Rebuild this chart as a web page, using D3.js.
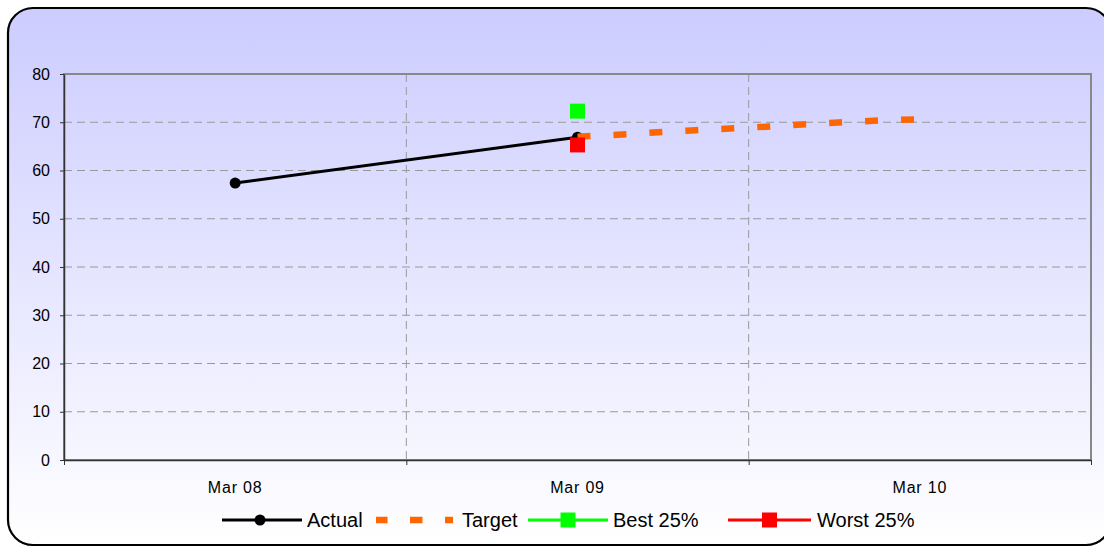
<!DOCTYPE html>
<html>
<head>
<meta charset="utf-8">
<script src="https://cdn.jsdelivr.net/npm/d3@7"></script>
<style>
  body { margin: 0; background: #fff; }
  svg { display: block; font-family: "Liberation Sans", Arial, sans-serif; }
  .axis text { fill: #000; font-family: "Liberation Sans", Arial, sans-serif; font-size: 16px; }
</style>
</head>
<body>
<script>
const outerWidth = 1104;
const outerHeight = 547;
const margin = { top: 74, right: 13, bottom: 87, left: 64 };
const innerWidth = outerWidth - margin.left - margin.right;
const innerHeight = outerHeight - margin.top - margin.bottom;

// categories on the x axis
const categories = ['Mar 08', 'Mar 09', 'Mar 10'];
const yTicks = [0, 10, 20, 30, 40, 50, 60, 70, 80];

// months counted from Mar 08
const actualMonths = [0, 12];
const actualValues = [57.4, 66.9];
const targetMonths = [12, 13, 14, 15, 16, 17, 18, 19, 20, 21, 22, 23, 24];
const targetValues = [67.0, 67.3, 67.6, 68.0, 68.3, 68.6, 68.9, 69.2, 69.6, 69.9, 70.2, 70.5, 70.6];
const bestMonths = [12];
const bestValues = [72.3];
const worstMonths = [12];
const worstValues = [65.3];

const series = [
  { name: 'Actual', color: '#000000', months: actualMonths, values: actualValues },
  { name: 'Target', color: '#FF6600', months: targetMonths, values: targetValues },
  { name: 'Best 25%', color: '#00FF00', months: bestMonths, values: bestValues },
  { name: 'Worst 25%', color: '#FF0000', months: worstMonths, values: worstValues }
];
const toPoints = s => s.months.map((m, i) => ({ m: m, v: s.values[i] }));

var svg = d3.select('body').append('svg')
    .attr('width', outerWidth)
    .attr('height', outerHeight);

// background gradient
var grad = svg.append('defs').append('linearGradient')
    .attr('id', 'bg')
    .attr('x1', 0).attr('y1', 0).attr('x2', 0).attr('y2', 1);
grad.append('stop').attr('offset', '0%').attr('stop-color', '#CCCCFF');
grad.append('stop').attr('offset', '100%').attr('stop-color', '#FFFFFF');

svg.append('rect')
    .attr('x', 8).attr('y', 8)
    .attr('width', 1103).attr('height', 537)
    .attr('rx', 25).attr('ry', 25)
    .attr('fill', 'url(#bg)')
    .attr('stroke', '#000')
    .attr('stroke-width', 2.2);

var g = svg.append('g')
    .attr('transform', `translate(${margin.left},${margin.top})`);

// Scales
var xBand = d3.scaleBand()
    .domain(categories)
    .range([0, innerWidth]);
var xScale = d3.scaleLinear() // months, each category spans one year
    .domain([-6, 30])
    .range([0, innerWidth]);
var yScale = d3.scaleLinear()
    .domain([0, 80])
    .range([innerHeight, 0]);

// gridlines
g.append('g')
  .selectAll('line')
    .data(yTicks.slice(1, -1))
    .enter()
  .append('line')
    .attr('x1', 0).attr('x2', innerWidth)
    .attr('y1', d => yScale(d)).attr('y2', d => yScale(d))
    .attr('stroke', '#999')
    .attr('stroke-dasharray', '8,5');
g.append('g')
  .selectAll('line')
    .data(categories.slice(1))
    .enter()
  .append('line')
    .attr('x1', d => xBand(d)).attr('x2', d => xBand(d))
    .attr('y1', 0).attr('y2', innerHeight)
    .attr('stroke', '#999')
    .attr('stroke-dasharray', '8,5');

// plot border
g.append('rect')
    .attr('width', innerWidth).attr('height', innerHeight)
    .attr('fill', 'none')
    .attr('stroke', '#888')
    .attr('stroke-width', 2);

// Y-axis (ticks only, labels drawn below)
var yAxis = d3.axisLeft(yScale)
    .tickValues(yTicks)
    .tickSize(4)
    .tickFormat('')
    .tickSizeOuter(0);
g.append('g')
    .attr('class', 'axis')
    .call(yAxis)
    .call(a => a.select('.domain').attr('stroke', '#333').attr('stroke-width', 1.5))
    .call(a => a.selectAll('.tick line').attr('stroke', '#333'));
g.append('g')
    .attr('class', 'axis')
  .selectAll('text')
    .data(yTicks)
    .enter()
  .append('text')
    .attr('x', -14)
    .attr('y', d => yScale(d) + 5.5)
    .attr('text-anchor', 'end')
    .text(d => d);

// X-axis: ticks on band edges, labels in the middle
var xAxis = d3.axisBottom(xScale)
    .tickValues([-6, 6, 18, 30])
    .tickFormat('')
    .tickSize(5)
    .tickSizeOuter(0);
g.append('g')
    .attr('class', 'axis')
    .attr('transform', `translate(0,${innerHeight})`)
    .call(xAxis)
    .call(a => a.select('.domain').attr('stroke', '#333').attr('stroke-width', 1.5))
    .call(a => a.selectAll('.tick line').attr('stroke', '#333'));
g.append('g')
    .attr('class', 'axis')
  .selectAll('text')
    .data(categories)
    .enter()
  .append('text')
    .attr('x', d => xBand(d) + xBand.bandwidth() / 2)
    .attr('y', innerHeight + 33)
    .attr('text-anchor', 'middle')
    .style('letter-spacing', '0.8px')
    .text(d => d);

var line = d3.line()
    .x(d => xScale(d.m))
    .y(d => yScale(d.v));

// Actual
g.append('path')
    .datum(toPoints(series[0]))
    .attr('d', line)
    .attr('fill', 'none')
    .attr('stroke', series[0].color)
    .attr('stroke-width', 3);
g.selectAll('.actual-dot')
    .data(toPoints(series[0]))
    .enter()
  .append('circle')
    .attr('class', 'actual-dot')
    .attr('cx', d => xScale(d.m))
    .attr('cy', d => yScale(d.v))
    .attr('r', 5.5)
    .attr('fill', '#000');

// Target
g.append('path')
    .datum(toPoints(series[1]))
    .attr('d', line)
    .attr('fill', 'none')
    .attr('stroke', series[1].color)
    .attr('stroke-width', 6.5)
    .attr('stroke-dasharray', '13,23');

// Best / Worst markers
[series[2], series[3]].forEach(s => {
  g.selectAll(null)
      .data(toPoints(s))
      .enter()
    .append('rect')
      .attr('x', d => xScale(d.m) - 7.5)
      .attr('y', d => yScale(d.v) - 7.5)
      .attr('width', 15).attr('height', 15)
      .attr('fill', s.color);
});

// Legend
var legendItems = [
  { s: series[0], x: 222, len: 80, tx: 85, marker: 'circle' },
  { s: series[1], x: 376, len: 77, tx: 86, marker: 'none' },
  { s: series[2], x: 528, len: 80, tx: 85, marker: 'square' },
  { s: series[3], x: 728, len: 83, tx: 89, marker: 'square' }
];
var legend = svg.append('g').attr('class', 'legend');
legendItems.forEach(it => {
  var lg = legend.append('g').attr('transform', `translate(${it.x},520)`);
  if (it.s.name === 'Target') {
    lg.append('line')
        .attr('x1', 0).attr('x2', it.len)
        .attr('stroke', it.s.color)
        .attr('stroke-width', 6.5)
        .attr('stroke-dasharray', '11.5,22.5,12.5,22.5,8,40');
  } else {
    lg.append('line')
        .attr('x1', 0).attr('x2', it.len)
        .attr('stroke', it.s.color)
        .attr('stroke-width', 3);
  }
  if (it.marker === 'circle') {
    lg.append('circle').attr('cx', 38).attr('r', 5.5).attr('fill', it.s.color);
  } else if (it.marker === 'square') {
    lg.append('rect').attr('x', it.len / 2 - 7.5).attr('y', -7.5)
        .attr('width', 15).attr('height', 15).attr('fill', it.s.color);
  }
  lg.append('text')
      .attr('x', it.tx)
      .attr('y', 7)
      .style('font-size', '20px')
      .text(it.s.name);
});
</script>
</body>
</html>
